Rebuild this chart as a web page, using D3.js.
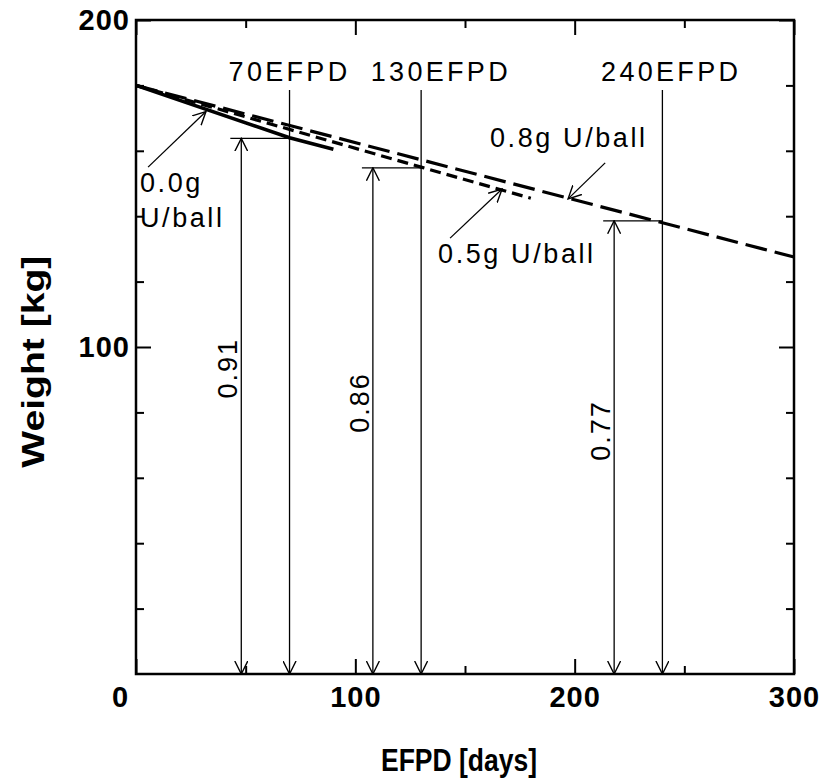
<!DOCTYPE html>
<html>
<head>
<meta charset="utf-8">
<script src="https://cdn.jsdelivr.net/npm/d3@7"></script>
<style>
  body { margin: 0; background: #fff; }
  svg { display: block; }
  text { font-family: "Liberation Sans", Arial, Helvetica, sans-serif; fill: #000; }
</style>
</head>
<body>
<svg id="chart" width="832" height="779"></svg>
<script>
// Fuel weight against burn-up (EFPD) for three uranium loadings per ball
const days00 = [0, 70, 90];
const weight00 = [180, 164, 160.5];
const days05 = [0, 130, 180];
const weight05 = [180, 155, 145.5];
const days08 = [0, 240, 300];
const weight08 = [180, 138, 127.5];

// Discharge burn-ups and remaining weight ratios
const efpdDays = [70, 130, 240];
const efpdLabels = ["70EFPD", "130EFPD", "240EFPD"];
const ratioDays = [48, 108, 218];
const ratioValues = [0.91, 0.86, 0.77];
const ratioLabels = ["0.91", "0.86", "0.77"];
const initialWeight = 180;

// Axis ticks
const xTickLabels = [0, 100, 200, 300];
const xMinorTicks = [50, 150, 250];
const yTickLabels = [100, 200];
const yMinorTicks = [20, 40, 60, 80, 120, 140, 160, 180];

const svg = d3.select("#chart");
const plotLeft = 136, plotRight = 794, plotTop = 20, plotBottom = 674;

const x = d3.scaleLinear().domain([0, 300]).range([plotLeft, plotRight]);
const y = d3.scaleLinear().domain([0, 200]).range([plotBottom, plotTop]);

// arrowhead (open V)
const defs = svg.append("defs");
defs.append("marker")
  .attr("id", "arrow")
  .attr("viewBox", "0 0 14 14")
  .attr("refX", 13).attr("refY", 7)
  .attr("markerWidth", 14).attr("markerHeight", 14)
  .attr("markerUnits", "userSpaceOnUse")
  .attr("orient", "auto-start-reverse")
  .append("path")
  .attr("d", "M0,0.5 L13,7 L0,13.5")
  .attr("fill", "none").attr("stroke", "#000").attr("stroke-width", 1.4);

// axes with inward ticks on all four sides
function styleAxis(g) {
  g.select(".domain").remove();
  g.selectAll(".tick line").attr("stroke", "#000").attr("stroke-width", 2);
  g.selectAll(".tick text")
    .style("font-size", "29px").style("font-weight", "bold")
    .style("letter-spacing", "1px");
}

svg.append("g").attr("transform", `translate(0,${plotBottom})`)
  .call(d3.axisBottom(x).tickValues(xTickLabels).tickSize(-15).tickPadding(12)
    .tickFormat(d3.format("d")))
  .call(styleAxis)
  .call(g => g.selectAll(".tick text").filter(d => d === 0).attr("dx", -16));
svg.append("g").attr("transform", `translate(0,${plotBottom})`)
  .call(d3.axisBottom(x).tickValues(xMinorTicks).tickSize(-8).tickFormat(""))
  .call(styleAxis);
svg.append("g").attr("transform", `translate(0,${plotTop})`)
  .call(d3.axisTop(x).tickValues(xTickLabels).tickSize(-15).tickFormat(""))
  .call(styleAxis);
svg.append("g").attr("transform", `translate(0,${plotTop})`)
  .call(d3.axisTop(x).tickValues(xMinorTicks).tickSize(-8).tickFormat(""))
  .call(styleAxis);

svg.append("g").attr("transform", `translate(${plotLeft},0)`)
  .call(d3.axisLeft(y).tickValues(yTickLabels).tickSize(-15).tickPadding(6)
    .tickFormat(d3.format("d")))
  .call(styleAxis);
svg.append("g").attr("transform", `translate(${plotLeft},0)`)
  .call(d3.axisLeft(y).tickValues(yMinorTicks).tickSize(-8).tickFormat(""))
  .call(styleAxis);
svg.append("g").attr("transform", `translate(${plotRight},0)`)
  .call(d3.axisRight(y).tickValues(yTickLabels).tickSize(-15).tickFormat(""))
  .call(styleAxis);
svg.append("g").attr("transform", `translate(${plotRight},0)`)
  .call(d3.axisRight(y).tickValues(yMinorTicks).tickSize(-8).tickFormat(""))
  .call(styleAxis);

// frame
svg.append("rect")
  .attr("x", plotLeft).attr("y", plotTop)
  .attr("width", plotRight - plotLeft).attr("height", plotBottom - plotTop)
  .attr("fill", "none").attr("stroke", "#000").attr("stroke-width", 2.5);

// axis titles
svg.append("text")
  .attr("x", 459).attr("y", 771)
  .attr("text-anchor", "middle")
  .attr("textLength", 156).attr("lengthAdjust", "spacingAndGlyphs")
  .style("font-size", "31px").style("font-weight", "bold")
  .text("EFPD [days]");
svg.append("text")
  .attr("transform", `translate(44,${y(95.5)}) rotate(-90)`)
  .attr("text-anchor", "middle")
  .attr("textLength", 212).attr("lengthAdjust", "spacingAndGlyphs")
  .style("font-size", "31px").style("font-weight", "bold")
  .text("Weight [kg]");

// weight curves
const line = d3.line().x(d => x(d[0])).y(d => y(d[1]));
const zip = (a, b) => a.map((v, i) => [v, b[i]]);
const curves = [
  { pts: zip(days00, weight00), dash: null, w: 3.6 },
  { pts: zip(days05, weight05), dash: "11,6", w: 3.2 },
  { pts: zip(days08, weight08), dash: "22,8", w: 3.2 }
];
curves.forEach(c => {
  svg.append("path")
    .attr("d", line(c.pts))
    .attr("fill", "none").attr("stroke", "#000")
    .attr("stroke-width", c.w)
    .attr("stroke-dasharray", c.dash);
});

// discharge burn-up lines
const annoFont = g => g.style("font-size", "27px").style("letter-spacing", "3.3px");
const efpdLabelDays = [70, 139, 244];
efpdDays.forEach((d, i) => {
  svg.append("line")
    .attr("x1", x(d)).attr("x2", x(d))
    .attr("y1", y(178.6)).attr("y2", y(0))
    .attr("stroke", "#000").attr("stroke-width", 1.3)
    .attr("marker-end", "url(#arrow)");
  svg.append("text")
    .attr("x", x(efpdLabelDays[i])).attr("y", y(181.3))
    .attr("text-anchor", "middle")
    .call(annoFont)
    .text(efpdLabels[i]);
});

// remaining weight ratio arrows
const ratioLabelWeights = [93.5, 83, 74.5];
ratioDays.forEach((d, i) => {
  const level = ratioValues[i] * initialWeight;
  svg.append("line")
    .attr("x1", x(d - 5)).attr("x2", x(efpdDays[i]))
    .attr("y1", y(level)).attr("y2", y(level))
    .attr("stroke", "#000").attr("stroke-width", 1.3);
  svg.append("line")
    .attr("x1", x(d)).attr("x2", x(d))
    .attr("y1", y(level)).attr("y2", y(0))
    .attr("stroke", "#000").attr("stroke-width", 1.3)
    .attr("marker-start", "url(#arrow)")
    .attr("marker-end", "url(#arrow)");
  svg.append("text")
    .attr("transform", `translate(${x(d) - 4},${y(ratioLabelWeights[i])}) rotate(-90)`)
    .attr("text-anchor", "middle")
    .style("font-size", "27px").style("letter-spacing", "2px")
    .text(ratioLabels[i]);
});

// series labels with pointers
const seriesLabels = [
  { lines: ["0.0g", "U/ball"], at: [1.8, 147.4], lineGap: 10.7, from: [5.5, 155], to: [31.9, 172] },
  { lines: ["0.5g U/ball"], at: [137.7, 125.7], from: [143.2, 133.3], to: [166.9, 148.3] },
  { lines: ["0.8g U/ball"], at: [161.4, 161.2], from: [213.9, 156.3], to: [197, 145.3] }
];
seriesLabels.forEach(s => {
  s.lines.forEach((t, j) => {
    svg.append("text")
      .attr("x", x(s.at[0])).attr("y", y(s.at[1] - j * (s.lineGap || 0)))
      .style("font-size", "27px").style("letter-spacing", "2.6px")
      .text(t);
  });
  svg.append("line")
    .attr("x1", x(s.from[0])).attr("y1", y(s.from[1]))
    .attr("x2", x(s.to[0])).attr("y2", y(s.to[1]))
    .attr("stroke", "#000").attr("stroke-width", 1.3)
    .attr("marker-end", "url(#arrow)");
});
</script>
</body>
</html>
